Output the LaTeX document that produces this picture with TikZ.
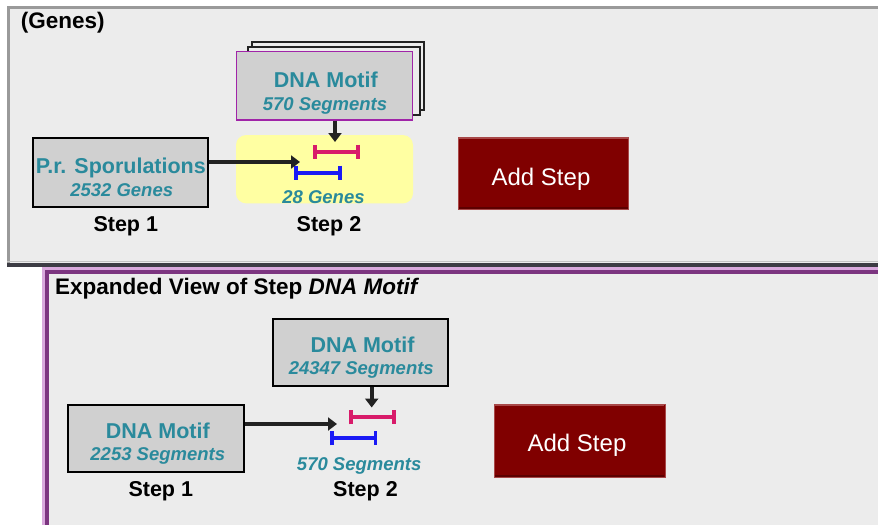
\documentclass[tikz,border=0pt]{standalone}
\usepackage{fontspec}
\setmainfont{Liberation Sans}
\usetikzlibrary{arrows.meta}

\definecolor{panelbg}{HTML}{ECECEC}
\definecolor{boxfill}{HTML}{D0D0D0}
\definecolor{tealtxt}{HTML}{2A8A9C}
\definecolor{hiyellow}{HTML}{FFFFA2}
\definecolor{barpink}{HTML}{D81B6A}
\definecolor{barblue}{HTML}{1A1AF5}
\definecolor{btnred}{HTML}{800000}
\definecolor{btnlight}{HTML}{A84848}
\definecolor{btndark}{HTML}{5C0000}
\definecolor{motifpurple}{HTML}{A024A8}
\definecolor{framepurple}{HTML}{7C3580}
\definecolor{framelilac}{HTML}{D9A9DD}
\definecolor{framedark}{HTML}{3C3C44}
\definecolor{framegray}{HTML}{9A9A9A}
\definecolor{arrowgray}{HTML}{222222}

\begin{document}
\begin{tikzpicture}[x=1pt,y=-1pt,
  stepbox/.style={draw=black, line width=2pt, fill=boxfill, inner sep=0pt},
  stackbox/.style={draw=arrowgray, line width=1.6pt, fill=panelbg, inner sep=0pt,
    minimum width=172pt, minimum height=68pt},
  titletxt/.style={anchor=base, inner sep=0pt, text=tealtxt,
    font=\fontsize{21.5}{24}\selectfont\bfseries},
  counttxt/.style={anchor=base, inner sep=0pt, text=tealtxt,
    font=\fontsize{18.5}{21}\selectfont\bfseries\itshape},
  steplabel/.style={anchor=base, inner sep=0pt, text=black,
    font=\fontsize{21.5}{24}\selectfont\bfseries},
  header/.style={anchor=base west, inner sep=0pt, text=black,
    font=\fontsize{22.5}{26}\selectfont\bfseries},
  btn/.style={fill=btnred, draw=btnlight, line width=0.8pt, inner sep=0pt},
  btntxt/.style={anchor=base, inner sep=0pt, text=white,
    font=\fontsize{24}{28}\selectfont},
  conn/.style={draw=arrowgray, line width=3.8pt, -{Triangle[length=9pt,width=13pt]}},
  pinkbar/.style={draw=barpink, line width=3.8pt, {Bar[width=14pt]}-{Bar[width=14pt]}},
  bluebar/.style={draw=barblue, line width=3.8pt, {Bar[width=14pt]}-{Bar[width=14pt]}},
]
% page
\fill[white] (0,0) rectangle (878,525);
\useasboundingbox (0,0) rectangle (878,525);

% ---------- upper panel ----------
\fill[panelbg] (7,6) rectangle (878,267);
\draw[framegray, line width=3pt] (7,7.5) -- (878,7.5);
\draw[framegray, line width=3pt] (8.5,6) -- (8.5,267);
\draw[framegray!60, line width=1.5pt] (7,261.5) -- (878,261.5);
\draw[framedark, line width=4pt] (7,265) -- (878,265);

\node[header] (hdrA) at (20.7,28.3) {(Genes)};

% step 1
\node[stepbox, minimum width=175pt, minimum height=69pt] (sA1) at (120,172.8) {};
\node[titletxt] (sA1t) at (120.8,173.3) {P.r. Sporulations};
\node[counttxt] (sA1c) at (121.7,196) {2532 Genes};

% step 2: stacked motif boxes and result area
\node[stackbox] (bkA) at (338,76) {};
\node[stackbox] (bkB) at (334,81) {};
\node[draw=motifpurple, line width=1.3pt, fill=boxfill, inner sep=0pt,
      minimum width=175.6pt, minimum height=68.3pt] (motA) at (324.5,85.8) {};
\node[titletxt] (motAt) at (325.8,87.3) {DNA Motif};
\node[counttxt] (motAc) at (325,110) {570 Segments};

\node[fill=hiyellow, rounded corners=10pt, inner sep=0pt,
      minimum width=177pt, minimum height=68.3pt] (resA) at (324.5,169.2) {};
\coordinate (pkA1) at (313.3,151.7); \coordinate (pkA2) at (360,151.7);
\coordinate (blA1) at (294,172.7);   \coordinate (blA2) at (341.7,172.7);
\draw[pinkbar] (pkA1) -- (pkA2);
\draw[bluebar] (blA1) -- (blA2);
\node[counttxt] (resAc) at (323.5,203.5) {28 Genes};

\coordinate (dnA) at (335,142);
\coordinate (hzA) at (300,162);
\draw[conn] (motA.south -| dnA) -- (dnA);
\draw[conn] (sA1.east |- hzA) -- (hzA);

\node[steplabel] (lblA1) at (125.8,231.5) {Step 1};
\node[steplabel] (lblA2) at (329,231.5) {Step 2};

% add-step button
\node[btn, minimum width=170pt, minimum height=72pt] (btnA) at (543.3,173.3) {};
\draw[btndark, line width=2pt] ([xshift=1pt,yshift=1.5pt]btnA.south west) -- ([xshift=-1pt,yshift=1.5pt]btnA.south east);
\draw[btnlight, line width=1.5pt] ([xshift=1pt,yshift=-1pt]btnA.north west) -- ([xshift=-1pt,yshift=-1pt]btnA.north east);
\node[btntxt] (btnAt) at (541,185) {Add Step};

% ---------- lower panel ----------
\fill[panelbg] (42,267) rectangle (878,525);
\fill[framelilac] (42,267) rectangle (878,270);
\fill[framelilac] (42,267) rectangle (45,525);
\fill[framepurple] (45,270) rectangle (878,274);
\fill[framepurple] (45,270) rectangle (49,525);

\node[header] (hdrB) at (55,294.3) {Expanded View of Step \textit{DNA Motif}};

\node[stepbox, minimum width=175.7pt, minimum height=67pt] (sB1) at (156.2,438.5) {};
\node[titletxt] (sB1t) at (157.8,438.3) {DNA Motif};
\node[counttxt] (sB1c) at (157.8,460) {2253 Segments};

\node[stepbox, minimum width=175pt, minimum height=66.7pt] (sB2) at (360.2,352.7) {};
\node[titletxt] (sB2t) at (362.5,352.7) {DNA Motif};
\node[counttxt] (sB2c) at (361.3,374) {24347 Segments};

\coordinate (pkB1) at (349.3,417.3); \coordinate (pkB2) at (396,417.3);
\coordinate (blB1) at (330,438.3);   \coordinate (blB2) at (377.3,438.3);
\draw[pinkbar] (pkB1) -- (pkB2);
\draw[bluebar] (blB1) -- (blB2);
\node[counttxt] (resBc) at (359.2,470.7) {570 Segments};

\coordinate (dnB) at (371.7,407.5);
\coordinate (hzB) at (337,424);
\draw[conn] (sB2.south -| dnB) -- (dnB);
\draw[conn] (sB1.east |- hzB) -- (hzB);

\node[steplabel] (lblB1) at (160.8,496.7) {Step 1};
\node[steplabel] (lblB2) at (365.5,496.7) {Step 2};

\node[btn, minimum width=170.7pt, minimum height=73pt] (btnB) at (579.7,440.8) {};
\draw[btndark, line width=2pt] ([xshift=1pt,yshift=1.5pt]btnB.south west) -- ([xshift=-1pt,yshift=1.5pt]btnB.south east);
\draw[btnlight, line width=1.5pt] ([xshift=1pt,yshift=-1pt]btnB.north west) -- ([xshift=-1pt,yshift=-1pt]btnB.north east);
\node[btntxt] (btnBt) at (577,451) {Add Step};
\end{tikzpicture}
\end{document}
